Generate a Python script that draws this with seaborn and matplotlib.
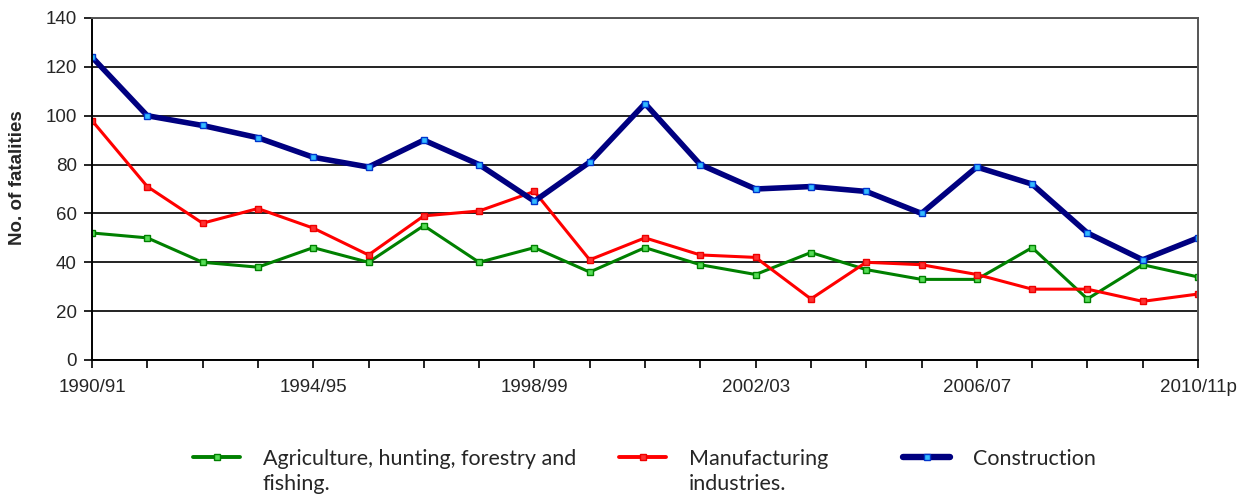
import matplotlib
matplotlib.use("Agg")
import matplotlib.pyplot as plt
import seaborn as sns
import numpy as np
from matplotlib.lines import Line2D

years = ["1990/91", "1991/92", "1992/93", "1993/94", "1994/95", "1995/96", "1996/97",
         "1997/98", "1998/99", "1999/00", "2000/01", "2001/02", "2002/03", "2003/04",
         "2004/05", "2005/06", "2006/07", "2007/08", "2008/09", "2009/10", "2010/11p"]
agriculture = [52, 50, 40, 38, 46, 40, 55, 40, 46, 36, 46, 39, 35, 44, 37, 33, 33, 46, 25, 39, 34]
manufacturing = [98, 71, 56, 62, 54, 43, 59, 61, 69, 41, 50, 43, 42, 25, 40, 39, 35, 29, 29, 24, 27]
construction = [124, 100, 96, 91, 83, 79, 90, 80, 65, 81, 105, 80, 70, 71, 69, 60, 79, 72, 52, 41, 50]
label_line1 = ["Agriculture, hunting, forestry and", "Manufacturing", "Construction"]
label_line2 = ["fishing.", "industries.", ""]
yticks = [0, 20, 40, 60, 80, 100, 120, 140]

sns.set_style("white")
plt.rcParams["font.family"] = ["Liberation Sans", "DejaVu Sans"]

W, H = 1254, 497
fig = plt.figure(figsize=(W / 100, H / 100), dpi=100)
ax = fig.add_axes([92 / W, 1 - 360 / H, (1198 - 92) / W, (360 - 18) / H])

x = np.arange(len(years))
styles = [
    (agriculture, "#008000", "#55dd55", "#008000", 2.2),
    (manufacturing, "#ff0000", "#ff3030", "#ee0000", 2.2),
    (construction, "#000080", "#33bbff", "#0033cc", 4.0),
]
handles = []
for vals, col, face, edge, lw in styles:
    sns.lineplot(x=x, y=vals, ax=ax, color=col, linewidth=lw, marker="s", markersize=4.5,
                 markerfacecolor=face, markeredgecolor=edge, markeredgewidth=1.0, legend=False)
    handles.append(Line2D([0], [0], color=col, linewidth=lw + 0.6, marker="s", markersize=4,
                          markerfacecolor=face, markeredgecolor=edge, markeredgewidth=1.0))

ax.set_xlim(0, len(years) - 1)
ax.set_ylim(0, 140)
ax.set_yticks(yticks)
ax.set_yticklabels([str(v) for v in yticks], fontsize=13.5)
ax.set_xticks(x)
ax.set_xticklabels([y if i % 4 == 0 else "" for i, y in enumerate(years)], fontsize=13.5)
ax.tick_params(axis="both", direction="out", length=6, width=1.2, color="black", bottom=True, left=True)
ax.tick_params(axis="x", pad=8)
ax.tick_params(axis="y", pad=5)
ax.yaxis.grid(True, color="#222222", linewidth=1.4)
ax.xaxis.grid(False)
ax.set_axisbelow(True)
for s in ["left", "bottom"]:
    ax.spines[s].set_color("black")
    ax.spines[s].set_linewidth(1.4)
for s in ["top", "right"]:
    ax.spines[s].set_color("#555555")
    ax.spines[s].set_linewidth(1.4)
ax.set_xlabel("")
ax.set_ylabel("No. of fatalities", fontsize=13.5, fontweight="bold")
ax.yaxis.set_label_coords((26 - 92) / 1106, (360 - 178) / 342)

legend_x = [193, 619, 903]
prop = {"family": ["Lato", "DejaVu Sans"], "size": 15.5}
legends = []
for h, lab, xh in zip(handles, label_line1, legend_x):
    leg = fig.legend(handles=[h], labels=[lab], loc="center left",
                     bbox_to_anchor=(xh / W, 1 - 459 / H), frameon=False,
                     borderpad=0, borderaxespad=0, handlelength=2.2, handletextpad=1.05,
                     prop=prop)
    legends.append(leg)

fig.canvas.draw()
renderer = fig.canvas.get_renderer()
for leg, lab2 in zip(legends, label_line2):
    if lab2:
        tx = leg.get_texts()[0].get_window_extent(renderer).x0
        fig.text(tx / W, 1 - 490 / H, lab2, fontfamily=["Lato", "DejaVu Sans"],
                 fontsize=15.5, va="baseline", ha="left")

fig.savefig("out.png", dpi=100)
